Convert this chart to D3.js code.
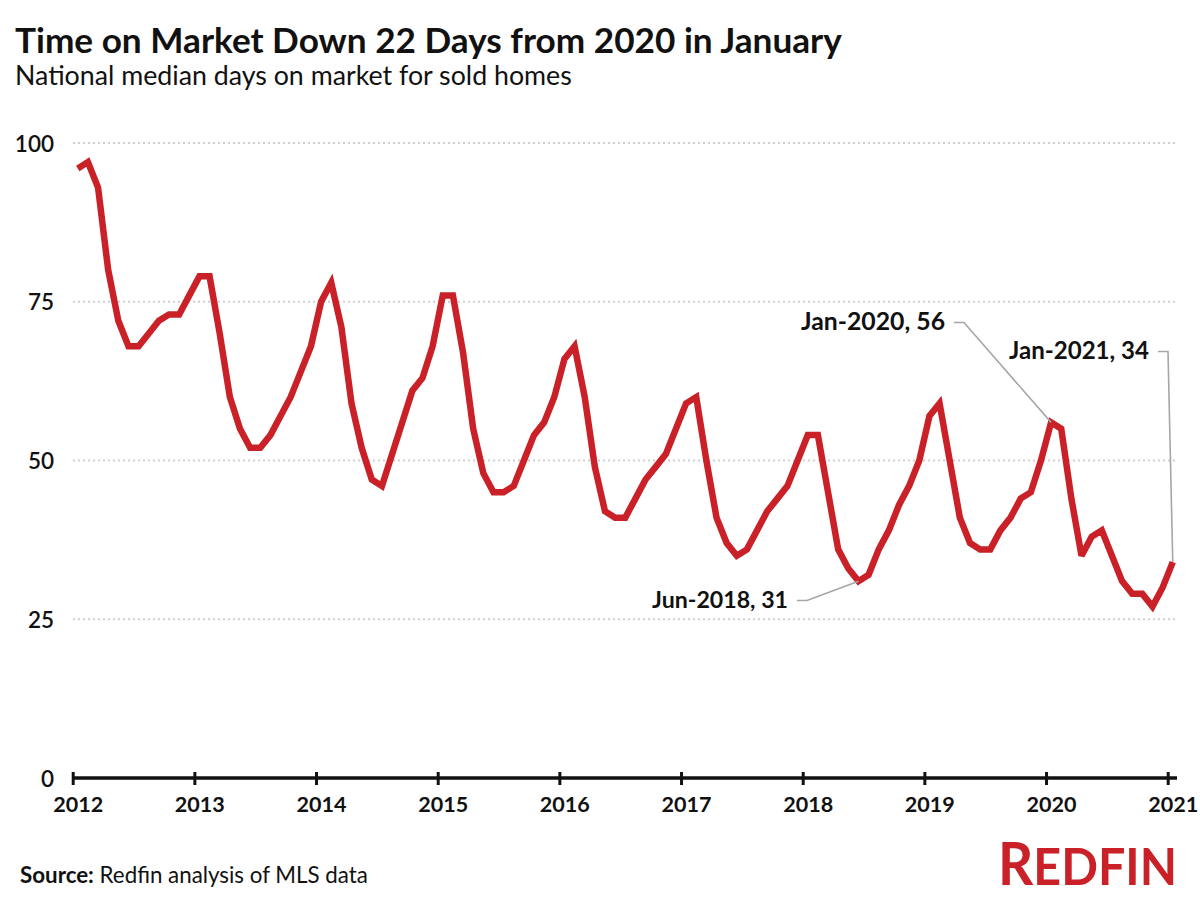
<!DOCTYPE html>
<html>
<head>
<meta charset="utf-8">
<script src="https://cdn.jsdelivr.net/npm/d3@7"></script>
<style>
  html, body { margin: 0; padding: 0; background: #fff; }
  svg { display: block; }
  text { font-family: Lato, "Open Sans", sans-serif; fill: #111; }
</style>
</head>
<body>
<svg id="chart" width="1200" height="900"></svg>
<script>
// ---- data (monthly, Jan 2012 .. Jan 2021) ----
const startYear = 2012;
const daysOnMarket = [
  96, 97, 93, 80, 72, 68, 68, 70, 72, 73, 73, 76,   // 2012
  79, 79, 70, 60, 55, 52, 52, 54, 57, 60, 64, 68,   // 2013
  75, 78, 71, 59, 52, 47, 46, 51, 56, 61, 63, 68,   // 2014
  76, 76, 67, 55, 48, 45, 45, 46, 50, 54, 56, 60,   // 2015
  66, 68, 60, 49, 42, 41, 41, 44, 47, 49, 51, 55,   // 2016
  59, 60, 50, 41, 37, 35, 36, 39, 42, 44, 46, 50,   // 2017
  54, 54, 45, 36, 33, 31, 32, 36, 39, 43, 46, 50,   // 2018
  57, 59, 50, 41, 37, 36, 36, 39, 41, 44, 45, 50,   // 2019
  56, 55, 44, 35, 38, 39, 35, 31, 29, 29, 27, 30,   // 2020
  34                                                // 2021
];
const yearTicks = [2012, 2013, 2014, 2015, 2016, 2017, 2018, 2019, 2020, 2021];
const yTicks = [0, 25, 50, 75, 100];
const annotationLabels = ["Jun-2018, 31", "Jan-2020, 56", "Jan-2021, 34"];
const annotationIndex = [77, 96, 108];

const titleText = "Time on Market Down 22 Days from 2020 in January";
const subtitleText = "National median days on market for sold homes";

// ---- setup ----
const svg = d3.select("#chart");
const RED = "#c92127";

const x = d3.scaleLinear().domain([2012, 2021]).range([72.7, 1167.7]);
const y = d3.scaleLinear().domain([0, 100]).range([778, 143]);
const tOf = i => startYear + (i + 0.5) / 12;

function fitWidth(sel, target) {
  const w = sel.node().getComputedTextLength();
  const fs = parseFloat(sel.attr("font-size"));
  const nfs = fs * target / w;
  sel.attr("font-size", nfs.toFixed(2));
  return nfs;
}

// ---- title ----
const title = svg.append("text").attr("x", 15).attr("y", 53)
  .attr("font-size", 32).attr("font-weight", 700).text(titleText);
fitWidth(title, 827);
const sub = svg.append("text").attr("x", 15).attr("y", 85)
  .attr("font-size", 22).attr("font-weight", 400).text(subtitleText);
fitWidth(sub, 557);

// ---- gridlines ----
svg.append("g").selectAll("line").data(yTicks.filter(d => d > 0)).join("line")
  .attr("x1", 73).attr("x2", 1177)
  .attr("y1", d => y(d)).attr("y2", d => y(d))
  .attr("stroke", "#cfcfcf").attr("stroke-width", 2)
  .attr("stroke-dasharray", "2,3");

// ---- y axis labels ----
const yAxis = d3.axisLeft(y).tickValues(yTicks).tickSize(0).tickPadding(0);
const gy = svg.append("g").attr("transform", "translate(54,0)").call(yAxis);
gy.select(".domain").remove();
gy.selectAll("text").attr("font-size", 22.5).attr("font-weight", 600)
  .attr("font-family", "Lato, sans-serif").attr("fill", "#111")
  .attr("dy", "0.36em").attr("text-anchor", "end");

// ---- x axis ----
svg.append("line").attr("x1", 72).attr("x2", 1177)
  .attr("y1", y(0)).attr("y2", y(0))
  .attr("stroke", "#111").attr("stroke-width", 3.5);
const xAxis = d3.axisBottom(x).tickValues(yearTicks).tickFormat(d3.format("d"))
  .tickSize(7).tickSizeOuter(0).tickPadding(0);
const gx = svg.append("g").attr("transform", `translate(0,${y(0)})`).call(xAxis);
gx.select(".domain").remove();
gx.selectAll(".tick line").attr("y1", -6).attr("y2", 7)
  .attr("stroke", "#111").attr("stroke-width", 3);
const xt = gx.selectAll(".tick text").attr("x", 5).attr("y", 34).attr("dy", 0)
  .attr("font-size", 19).attr("font-weight", 700)
  .attr("font-family", "Lato, sans-serif").attr("fill", "#111");
const xfs = fitWidth(d3.select(xt.nodes()[0]), 50);
xt.attr("font-size", xfs.toFixed(2));

// ---- line ----
const line = d3.line().x((d, i) => x(tOf(i))).y(d => y(d));
svg.append("path").datum(daysOnMarket)
  .attr("d", line).attr("fill", "none")
  .attr("stroke", RED).attr("stroke-width", 6.5)
  .attr("stroke-linejoin", "miter").attr("stroke-miterlimit", 3);

// ---- annotations ----
const annPos = [
  { tx: 788, ty: 608, w: 136 },
  { tx: 945, ty: 330, w: 144 },
  { tx: 1149, ty: 359, w: 140 }
];
annotationLabels.forEach((lab, k) => {
  const p = annPos[k];
  const i = annotationIndex[k];
  const px = x(tOf(i)), py = y(daysOnMarket[i]);
  const ly = p.ty - 7.5;
  svg.append("path")
    .attr("d", d3.line()([[p.tx + 9, ly], [p.tx + 19, ly], [px, py]]))
    .attr("fill", "none").attr("stroke", "#a6a6a6").attr("stroke-width", 1.6);
  const t = svg.append("text").attr("x", p.tx).attr("y", p.ty)
    .attr("text-anchor", "end").attr("font-size", 21).attr("font-weight", 700)
    .text(lab);
  fitWidth(t, p.w);
});

// ---- source ----
const src = svg.append("text").attr("x", 20).attr("y", 883).attr("font-size", 19);
src.append("tspan").attr("font-weight", 700).text("Source:");
src.append("tspan").attr("font-weight", 400).text(" Redfin analysis of MLS data");
fitWidth(src, 348);

// ---- logo ----
const logo = svg.append("text").attr("x", 998).attr("y", 885)
  .attr("font-family", "'DejaVu Sans Condensed', 'Liberation Sans Narrow', sans-serif")
  .attr("font-weight", 700).style("fill", RED)
  .attr("textLength", 179).attr("lengthAdjust", "spacingAndGlyphs");
logo.append("tspan").attr("font-size", 59).style("fill", RED).text("R");
logo.append("tspan").attr("font-size", 52).style("fill", RED).text("EDFIN");
</script>
</body>
</html>
